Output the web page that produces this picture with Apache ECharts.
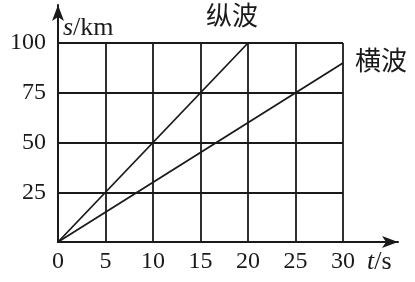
<!DOCTYPE html>
<html><head><meta charset="utf-8">
<script src="https://cdn.jsdelivr.net/npm/echarts@6/dist/echarts.min.js"></script>
<style>html,body{margin:0;padding:0;background:#fff}#c{width:415px;height:282px}</style>
</head><body><div id="c"></div>
<script>
const tTicks = [0, 5, 10, 15, 20, 25, 30];
const sTicks = [0, 25, 50, 75, 100];
const longT = [0, 20];
const longS = [0, 100];
const transT = [0, 30];
const transS = [0, 90];
const longName = '纵波';
const transName = '横波';

const ink = '#1a1a1a';
const serif = '"Liberation Serif","Times New Roman",serif';
const chart = echarts.init(document.getElementById('c'));
chart.setOption({
  animation: false,
  grid: [
    {left: 58, top: 43, width: 285, height: 199},
    {left: 58, top: 5, right: 17, bottom: 40}
  ],
  xAxis: [
    {gridIndex: 0, type: 'value', min: tTicks[0], max: tTicks[tTicks.length-1], interval: 5,
     axisLine: {show: true, lineStyle: {color: ink, width: 2}}, axisTick: {show: false},
     splitLine: {show: true, lineStyle: {color: ink, width: 1.8}},
     axisLabel: {color: ink, fontFamily: serif, fontSize: 24, margin: 8}},
    {gridIndex: 1, type: 'value', min: 0, max: 1, axisLabel: {show: false}, axisTick: {show: false}, splitLine: {show: false},
     axisLine: {show: true, symbol: ['none', 'arrow'], symbolSize: [9, 16], lineStyle: {color: ink, width: 2}}}
  ],
  yAxis: [
    {gridIndex: 0, type: 'value', min: sTicks[0], max: sTicks[sTicks.length-1], interval: 25,
     axisLine: {show: true, lineStyle: {color: ink, width: 2}}, axisTick: {show: false},
     splitLine: {show: true, lineStyle: {color: ink, width: 1.8}},
     axisLabel: {color: ink, fontFamily: serif, fontSize: 24, margin: 12,
       formatter: v => v === 0 ? '' : String(v)}},
    {gridIndex: 1, type: 'value', min: 0, max: 1, axisLabel: {show: false}, axisTick: {show: false}, splitLine: {show: false},
     axisLine: {show: true, symbol: ['none', 'arrow'], symbolSize: [9, 16], lineStyle: {color: ink, width: 2}}}
  ],
  series: [
    {name: longName, type: 'line', xAxisIndex: 0, yAxisIndex: 0, symbol: 'none',
     lineStyle: {color: ink, width: 1.8},
     data: longT.map((t, i) => [t, longS[i]]),
     endLabel: {show: true, formatter: '{a}', color: ink, fontSize: 26,
       fontFamily: '"Noto Sans CJK SC"', offset: [-50, -28]}},
    {name: transName, type: 'line', xAxisIndex: 0, yAxisIndex: 0, symbol: 'none',
     lineStyle: {color: ink, width: 1.8},
     data: transT.map((t, i) => [t, transS[i]]),
     endLabel: {show: true, formatter: '{a}', color: ink, fontSize: 26,
       fontFamily: '"Noto Sans CJK SC"', offset: [4, -3]}}
  ],
  graphic: [
    {type: 'text', left: 63, top: 15, style: {text: '{i|s}{n|/km}',
      rich: {i: {fontStyle: 'italic', fontFamily: serif, fontSize: 26, fill: ink},
             n: {fontFamily: serif, fontSize: 26, fill: ink}}}},
    {type: 'text', left: 367, top: 249, style: {text: '{i|t}{n|/s}',
      rich: {i: {fontStyle: 'italic', fontFamily: serif, fontSize: 26, fill: ink},
             n: {fontFamily: serif, fontSize: 26, fill: ink}}}}
  ]
});
</script></body></html>
